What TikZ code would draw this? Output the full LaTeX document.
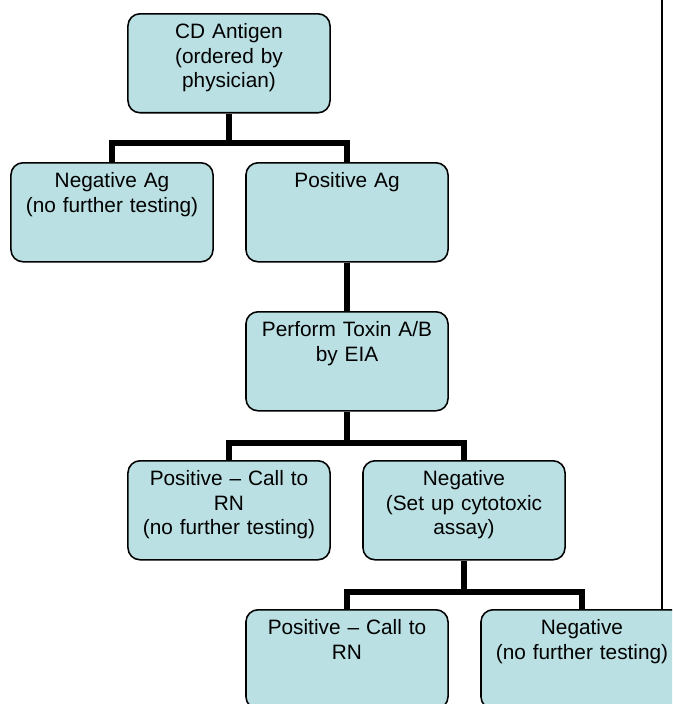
\documentclass[tikz,border=0pt]{standalone}
\usepackage{fontspec}
\setmainfont{Liberation Sans}
\usepackage{tikz}
\definecolor{agblue}{RGB}{186,224,227}
\tikzstyle{agbox}=[draw, fill=agblue, rounded corners=0.3cm, line width=1.1pt, anchor=north,
  align=center, text width=4.7cm, inner xsep=0.175cm, inner ysep=4pt,
  text height=13.7pt, text depth=48.7pt, font=\fontsize{14.8pt}{17.5pt}\selectfont]
\tikzstyle{agline}=[line width=4pt]

\begin{document}
\begin{tikzpicture}[x=0.025cm, y=-0.025cm]
%\draw[help lines,step=20] (0,0) grid (672,704);
\useasboundingbox (0,0) rectangle (672,704);
\clip (0,0) rectangle (672,704);
\coordinate (ruletop) at (662,0);
\node[agbox] (antigen) at (229,13) {CD Antigen\\(ordered by\\physician)};
\node[agbox] (negag) at (112,162) {Negative Ag\\(no further testing)};
\node[agbox] (posag) at (347,162) {Positive Ag};
\node[agbox] (toxin) at (347,311) {Perform Toxin A/B\\by EIA};
\node[agbox] (posrn) at (229,460) {Positive -- Call to\\RN\\(no further testing)};
\node[agbox] (negcyto) at (464,460) {Negative\\(Set up cytotoxic\\assay)};
\node[agbox] (posrn2) at (347,609) {Positive -- Call to\\RN};
\node[agbox] (negfinal) at (582,609) {Negative\\(no further testing)};
\draw[line width=1.2pt] (ruletop) -- (ruletop |- negfinal.north);
\coordinate (j1) at (229,143);
\coordinate (j2) at (347,443);
\coordinate (j3) at (464,592);
\draw[agline] (antigen) -- (j1);
\draw[agline] (negag) |- (j1) -| (posag);
\draw[agline] (posag) -- (toxin);
\draw[agline] (toxin) -- (j2);
\draw[agline] (posrn) |- (j2) -| (negcyto);
\draw[agline] (negcyto) -- (j3);
\draw[agline] (posrn2) |- (j3) -| (negfinal);
\end{tikzpicture}
\end{document}
